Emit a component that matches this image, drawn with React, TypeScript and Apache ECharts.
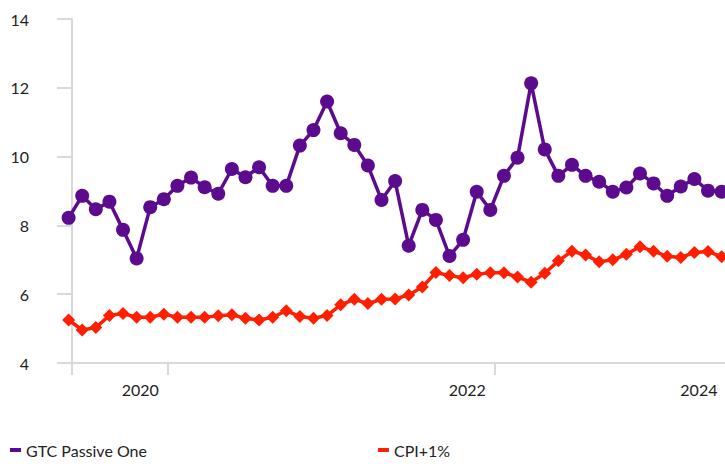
import React, { useEffect, useRef } from "react";
import * as echarts from "echarts";

// Monthly observations (index 0 .. 48)
const gtcPassiveOne = [
  8.22, 8.86, 8.47, 8.69, 7.87, 7.04, 8.53, 8.76, 9.15, 9.39, 9.11, 8.92,
  9.64, 9.4, 9.69, 9.15, 9.15, 10.32, 10.77, 11.6, 10.68, 10.34, 9.74, 8.74,
  9.29, 7.41, 8.45, 8.16, 7.11, 7.58, 8.98, 8.45, 9.44, 9.97, 12.13, 10.21,
  9.44, 9.76, 9.44, 9.27, 8.98, 9.1, 9.51, 9.22, 8.86, 9.13, 9.35, 9.01, 8.98,
];
const cpiPlus1 = [
  5.25, 4.96, 5.03, 5.38, 5.44, 5.33, 5.33, 5.42, 5.33, 5.33, 5.33, 5.37,
  5.4, 5.3, 5.25, 5.33, 5.52, 5.35, 5.3, 5.38, 5.69, 5.85, 5.73, 5.85,
  5.86, 5.98, 6.21, 6.63, 6.54, 6.48, 6.58, 6.62, 6.62, 6.5, 6.35, 6.61,
  6.97, 7.25, 7.14, 6.94, 7.0, 7.16, 7.38, 7.25, 7.1, 7.07, 7.21, 7.24, 7.09,
];
const seriesNames = ["GTC Passive One", "CPI+1%"];
const yearLabels = ["2020", "2022", "2024"];
const yearLabelIndex = [5.27, 29.3, 46.33];
const yearTickIndex = [0.25, 7.27, 31.33];

const FONT = "Lato, 'Noto Sans', sans-serif";

export default function App() {
  const ref = useRef<HTMLDivElement>(null);
  useEffect(() => {
    if (!ref.current) return;
    const chart = echarts.init(ref.current, undefined, { renderer: "svg" });
    const toXY = (arr: number[]) => arr.map((v, i) => [i, v]);
    chart.setOption({
      animation: false,
      textStyle: { fontFamily: FONT },
      grid: { left: 72, top: 19, width: 655, height: 344, containLabel: false },
      legend: {
        left: 10,
        top: 441,
        padding: 0,
        itemGap: 231,
        itemWidth: 11,
        itemHeight: 4,
        icon: "rect",
        textStyle: { fontSize: 16, color: "#222", fontFamily: FONT, lineHeight: 18 },
        data: seriesNames,
      },
      xAxis: {
        type: "value",
        min: 0.25,
        max: 48.25,
        splitLine: { show: false },
        axisLine: { lineStyle: { color: "#d9d9d9", width: 2 } },
        axisTick: {
          show: true,
          length: 12,
          customValues: yearTickIndex,
          lineStyle: { color: "#d9d9d9", width: 2 },
        },
        axisLabel: {
          customValues: yearLabelIndex,
          formatter: (v: number) => {
            const k = yearLabelIndex.findIndex((p) => Math.abs(p - v) < 0.01);
            return k >= 0 ? yearLabels[k] : "";
          },
          fontSize: 16,
          color: "#222",
          margin: 18,
          fontFamily: FONT,
        },
      },
      yAxis: {
        type: "value",
        min: 4,
        max: 14,
        interval: 2,
        splitLine: { show: false },
        axisLine: { show: true, lineStyle: { color: "#d9d9d9", width: 2 } },
        axisTick: { show: true, length: 15, lineStyle: { color: "#d9d9d9", width: 2 } },
        axisLabel: { fontSize: 16, color: "#222", margin: 43, fontFamily: FONT },
      },
      series: [
        {
          name: seriesNames[0],
          type: "line",
          data: toXY(gtcPassiveOne),
          symbol: "circle",
          symbolSize: 14,
          clip: false,
          itemStyle: { color: "#5c0b8e" },
          lineStyle: { color: "#5c0b8e", width: 3.5 },
        },
        {
          name: seriesNames[1],
          type: "line",
          data: toXY(cpiPlus1),
          symbol: "diamond",
          symbolSize: 13,
          clip: false,
          itemStyle: { color: "#ff1f00" },
          lineStyle: { color: "#ff1f00", width: 3.5 },
        },
      ],
    });
    return () => chart.dispose();
  }, []);
  return (
    <div
      ref={ref}
      style={{ position: "absolute", left: 0, top: 0, width: 725, height: 464, background: "#fff" }}
    />
  );
}
